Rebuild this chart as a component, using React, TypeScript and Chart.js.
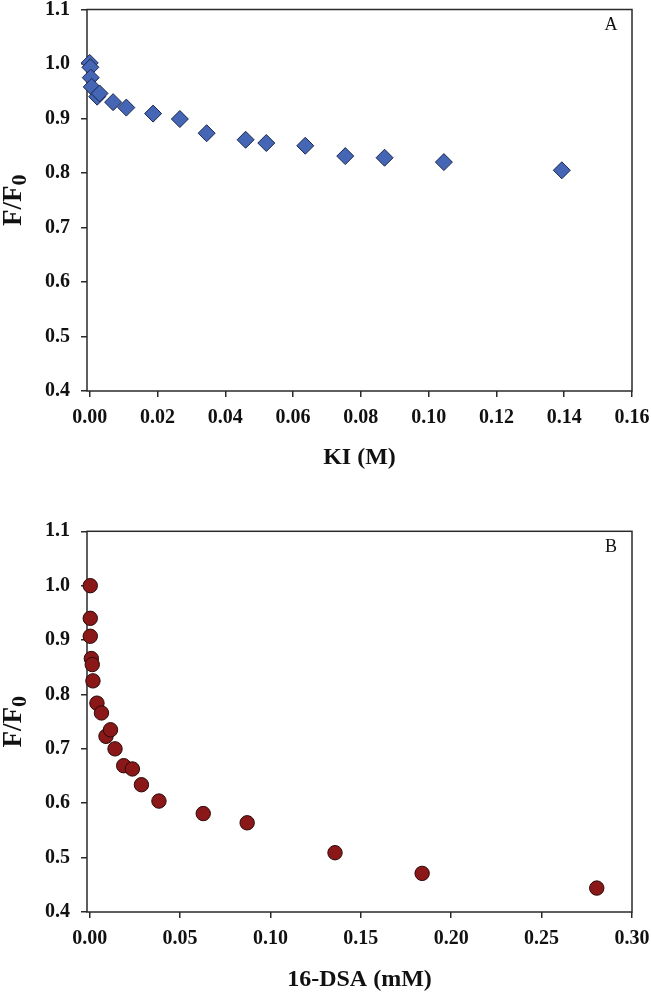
import React, { useEffect, useRef } from "react";
import { Chart, registerables } from "chart.js";
Chart.register(...registerables);

// Panel A: KI quenching
const kiConc = [0.0, 0.0002, 0.0003, 0.0006, 0.0022, 0.0029, 0.0069, 0.0108, 0.0187, 0.0266, 0.0345, 0.046, 0.0521, 0.0636, 0.0754, 0.087, 0.1045, 0.1393];
const kiRatio = [1.002, 0.994, 0.975, 0.958, 0.94, 0.946, 0.93, 0.92, 0.909, 0.899, 0.873, 0.861, 0.855, 0.85, 0.831, 0.828, 0.82, 0.805];
const kiTicks = [0.0, 0.02, 0.04, 0.06, 0.08, 0.1, 0.12, 0.14, 0.16];

// Panel B: 16-DSA quenching
const dsaConc = [0.0003, 0.0003, 0.0003, 0.0009, 0.0014, 0.0018, 0.004, 0.0065, 0.009, 0.0115, 0.014, 0.0188, 0.0236, 0.0286, 0.0383, 0.0628, 0.0871, 0.1357, 0.1839, 0.2805];
const dsaRatio = [1.0, 0.94, 0.907, 0.866, 0.855, 0.825, 0.784, 0.766, 0.723, 0.735, 0.7, 0.669, 0.663, 0.634, 0.604, 0.581, 0.564, 0.509, 0.471, 0.444];
const dsaTicks = [0.0, 0.05, 0.1, 0.15, 0.2, 0.25, 0.3];

const yTicks = [0.4, 0.5, 0.6, 0.7, 0.8, 0.9, 1.0, 1.1];

const SERIF = "'Liberation Serif', 'Times New Roman', serif";

function overlayPlugin(letter: string) {
  return {
    id: "overlay" + letter,
    beforeDatasetsDraw(chart: any) {
      const { ctx, chartArea: ca } = chart;
      ctx.save();
      ctx.strokeStyle = "#2a2a2a";
      ctx.lineWidth = 1.5;
      ctx.strokeRect(ca.left, ca.top, ca.right - ca.left, ca.bottom - ca.top);
      ctx.restore();
    },
    afterDraw(chart: any) {
      const { ctx, chartArea: ca } = chart;
      ctx.save();
      ctx.fillStyle = "#111";
      ctx.font = `18px ${SERIF}`;
      ctx.textAlign = "center";
      ctx.textBaseline = "middle";
      ctx.fillText(letter, ca.right - 21, ca.top + 16);
      // y axis title F/F0 with subscript
      ctx.translate(14, (ca.top + ca.bottom) / 2);
      ctx.rotate(-Math.PI / 2);
      ctx.textAlign = "left";
      ctx.textBaseline = "alphabetic";
      const big = `bold 27px ${SERIF}`;
      const small = `bold 22px ${SERIF}`;
      ctx.font = big;
      const w1 = ctx.measureText("F/F").width;
      ctx.font = small;
      const w2 = ctx.measureText("0").width;
      const x0 = -(w1 + w2) / 2;
      ctx.font = big;
      ctx.fillText("F/F", x0, 7);
      ctx.font = small;
      ctx.fillText("0", x0 + w1, 12);
      ctx.restore();
    },
  };
}

function makeConfig(opts: {
  xs: number[];
  ys: number[];
  xTicks: number[];
  xMin: number;
  xMax: number;
  xDecimals: number;
  title: string;
  topPad: number;
  xHeight: number;
  titlePad: number;
  letter: string;
  pointStyle: string;
  radius: number;
  fill: string;
  border: string;
}) {
  const data = opts.xs.map((x, i) => ({ x, y: opts.ys[i] }));
  const tickFont = { family: SERIF, size: 20, weight: "bold" as const, lineHeight: 1 };
  return {
    type: "scatter" as const,
    data: {
      datasets: [
        {
          data,
          pointStyle: opts.pointStyle,
          pointRadius: opts.radius,
          pointHoverRadius: opts.radius,
          pointBackgroundColor: opts.fill,
          pointBorderColor: opts.border,
          pointBorderWidth: 1,
          showLine: false,
          clip: false,
        },
      ],
    },
    options: {
      responsive: false,
      animation: false,
      devicePixelRatio: 1,
      layout: { padding: { left: 0, right: 19, top: opts.topPad, bottom: 0 } },
      plugins: { legend: { display: false }, tooltip: { enabled: false } },
      scales: {
        x: {
          type: "linear",
          min: opts.xMin,
          max: opts.xMax,
          afterBuildTicks: (scale: any) => {
            scale.ticks = opts.xTicks.map((v) => ({ value: v }));
          },
          afterFit: (scale: any) => {
            scale.height = opts.xHeight;
            scale.paddingLeft = 0;
            scale.paddingRight = 0;
          },
          border: { display: false },
          grid: { drawOnChartArea: false, drawTicks: true, tickLength: 6, color: "#2a2a2a", lineWidth: 1.5 },
          ticks: {
            color: "#111",
            font: tickFont,
            padding: 11,
            maxRotation: 0,
            autoSkip: false,
            callback: (v: any) => Number(v).toFixed(opts.xDecimals),
          },
          title: {
            display: true,
            text: opts.title,
            color: "#111",
            font: { family: SERIF, size: 24, weight: "bold", lineHeight: 1.2 },
            padding: { top: 0, bottom: opts.titlePad },
          },
        },
        y: {
          type: "linear",
          min: 0.4,
          max: 1.1,
          afterBuildTicks: (scale: any) => {
            scale.ticks = yTicks.map((v) => ({ value: v }));
          },
          afterFit: (scale: any) => {
            scale.width = 87;
            scale.paddingTop = 0;
            scale.paddingBottom = 0;
          },
          border: { display: false },
          grid: { drawOnChartArea: false, drawTicks: true, tickLength: 6, color: "#2a2a2a", lineWidth: 1.5 },
          ticks: {
            color: "#111",
            font: tickFont,
            padding: 11,
            autoSkip: false,
            callback: (v: any) => Number(v).toFixed(1),
          },
        },
      },
    },
    plugins: [overlayPlugin(opts.letter)],
  };
}

function Panel(props: { config: any; top: number }) {
  const ref = useRef<HTMLCanvasElement | null>(null);
  useEffect(() => {
    if (!ref.current) return;
    const chart = new Chart(ref.current, props.config);
    return () => chart.destroy();
  }, []);
  return (
    <div style={{ position: "absolute", left: 0, top: props.top, width: 651, height: 497 }}>
      <canvas ref={ref} width={651} height={497} style={{ width: 651, height: 497, display: "block" }} />
    </div>
  );
}

export default function App() {
  const configA = makeConfig({
    xs: kiConc,
    ys: kiRatio,
    xTicks: kiTicks,
    xMin: -0.0008,
    xMax: 0.16,
    xDecimals: 2,
    title: "KI (M)",
    topPad: 9.3,
    xHeight: 106,
    titlePad: 24.6,
    letter: "A",
    pointStyle: "rectRot",
    radius: 8.5,
    fill: "#4466b4",
    border: "#1c2550",
  });
  const configB = makeConfig({
    xs: dsaConc,
    ys: dsaRatio,
    xTicks: dsaTicks,
    xMin: -0.0015,
    xMax: 0.3,
    xDecimals: 2,
    title: "16-DSA (mM)",
    topPad: 34.3,
    xHeight: 82,
    titlePad: 0,
    letter: "B",
    pointStyle: "circle",
    radius: 7.2,
    fill: "#8b1818",
    border: "#2a0808",
  });
  return (
    <div style={{ position: "absolute", left: 0, top: 0, width: 651, height: 994, background: "#fff" }}>
      <Panel config={configA} top={0} />
      <Panel config={configB} top={497} />
    </div>
  );
}
